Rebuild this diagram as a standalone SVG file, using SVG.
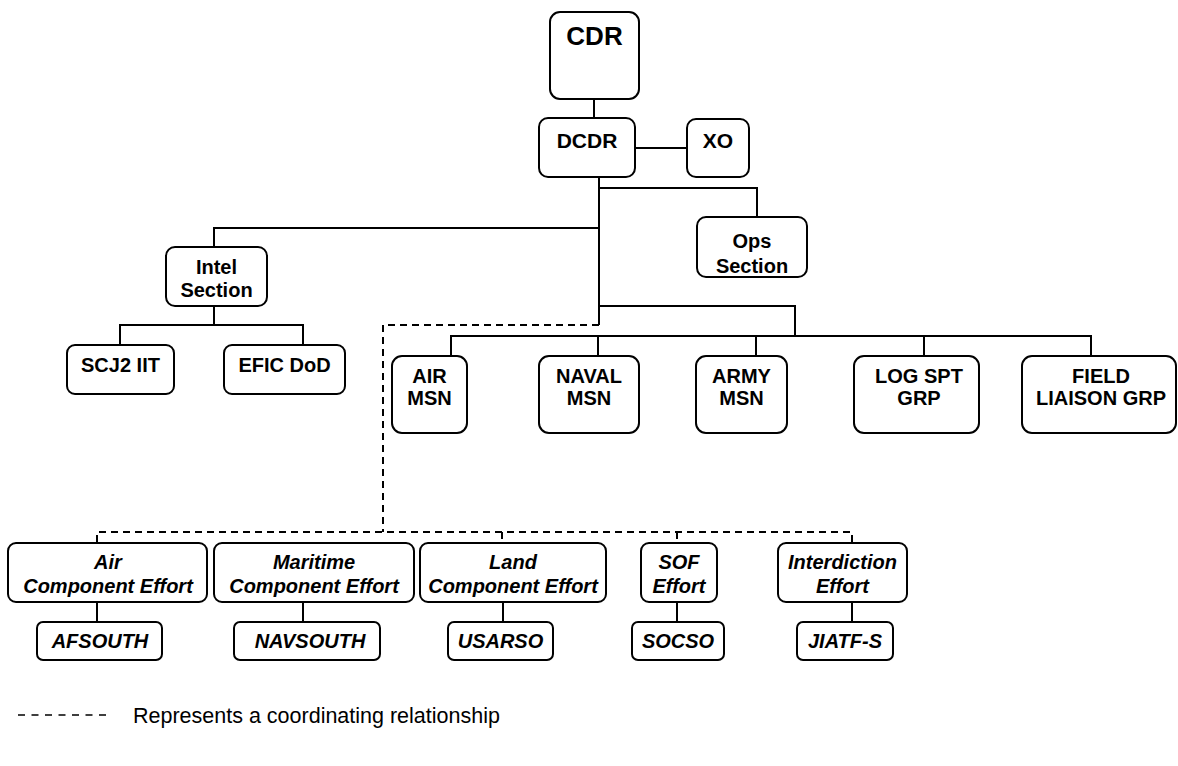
<svg xmlns="http://www.w3.org/2000/svg" width="1178" height="766" viewBox="0 0 1178 766">
<style>
.box{fill:#fff;stroke:#000;stroke-width:2}
.ln{fill:none;stroke:#000;stroke-width:2}
.ds{fill:none;stroke:#000;stroke-width:2;stroke-dasharray:7 5}
text{font-family:"Liberation Sans",Arial,sans-serif;fill:#000;text-anchor:middle}
.b{font-weight:bold;font-size:20px}
.bi{font-weight:bold;font-style:italic;font-size:20px}
</style>
<rect width="1178" height="766" fill="#fff"/>
<g id="connectors">
<path class="ln" d="M594,99V118"/>
<path class="ln" d="M635,148H687"/>
<path class="ln" d="M599,177V325"/>
<path class="ln" d="M599,188H757V217"/>
<path class="ln" d="M599,228H214V247"/>
<path class="ln" d="M214,306V325M120,345V325H303V345"/>
<path class="ln" d="M599,306H795V336"/>
<path class="ln" d="M451,356V336H1091V356M598,336V356M756,336V356M924,336V356"/>
<path class="ds" d="M599,325H383V532"/>
<path class="ds" d="M97,542V532H852V542M502,532V542M677,532V542"/>
<path class="ln" d="M97,602V622M303,602V622M503,602V622M677,602V622M852,602V622"/>
</g>
<g id="cdr"><rect class="box" x="550" y="12" width="89" height="87" rx="10"/><text x="594.5" y="45" font-size="26" font-weight="bold">CDR</text></g>
<g id="dcdr"><rect class="box" x="539" y="118" width="96" height="59" rx="9"/><text x="587" y="148" font-size="21" font-weight="bold">DCDR</text></g>
<g id="xo"><rect class="box" x="687" y="119" width="62" height="58" rx="9"/><text x="718" y="148" font-size="21" font-weight="bold">XO</text></g>
<g id="ops"><rect class="box" x="697" y="217" width="110" height="60" rx="9"/><text class="b" x="752" y="248">Ops</text><text class="b" x="752" y="273">Section</text></g>
<g id="intel"><rect class="box" x="166" y="247" width="101" height="59" rx="9"/><text class="b" x="216.5" y="274">Intel</text><text class="b" x="216.5" y="297">Section</text></g>
<g id="scj2"><rect class="box" x="67" y="345" width="107" height="49" rx="8"/><text class="b" x="120.5" y="372">SCJ2 IIT</text></g>
<g id="efic"><rect class="box" x="224" y="345" width="121" height="49" rx="8"/><text class="b" x="284.5" y="372">EFIC DoD</text></g>
<g id="air-msn"><rect class="box" x="392" y="356" width="75" height="77" rx="10"/><text class="b" x="429.5" y="383">AIR</text><text class="b" x="429.5" y="405">MSN</text></g>
<g id="naval-msn"><rect class="box" x="539" y="356" width="100" height="77" rx="10"/><text class="b" x="589" y="383">NAVAL</text><text class="b" x="589" y="405">MSN</text></g>
<g id="army-msn"><rect class="box" x="696" y="356" width="91" height="77" rx="10"/><text class="b" x="741.5" y="383">ARMY</text><text class="b" x="741.5" y="405">MSN</text></g>
<g id="log-spt"><rect class="box" x="854" y="356" width="125" height="77" rx="10"/><text class="b" x="919" y="383">LOG SPT</text><text class="b" x="919" y="405">GRP</text></g>
<g id="field"><rect class="box" x="1022" y="356" width="154" height="77" rx="10"/><text class="b" x="1101" y="383">FIELD</text><text class="b" x="1101" y="405">LIAISON GRP</text></g>
<g id="air-eff"><rect class="box" x="8" y="543" width="199" height="59" rx="8"/><text class="bi" x="108" y="569">Air</text><text class="bi" x="108" y="593">Component Effort</text></g>
<g id="mar-eff"><rect class="box" x="214" y="543" width="200" height="59" rx="8"/><text class="bi" x="314" y="569">Maritime</text><text class="bi" x="314" y="593">Component Effort</text></g>
<g id="land-eff"><rect class="box" x="420" y="543" width="186" height="59" rx="8"/><text class="bi" x="513" y="569">Land</text><text class="bi" x="513" y="593">Component Effort</text></g>
<g id="sof-eff"><rect class="box" x="641" y="543" width="76" height="59" rx="8"/><text class="bi" x="679" y="569">SOF</text><text class="bi" x="679" y="593">Effort</text></g>
<g id="int-eff"><rect class="box" x="778" y="543" width="129" height="59" rx="8"/><text class="bi" x="842.5" y="569">Interdiction</text><text class="bi" x="842.5" y="593">Effort</text></g>
<g id="afsouth"><rect class="box" x="37" y="622" width="125" height="38" rx="6"/><text class="bi" x="100" y="648">AFSOUTH</text></g>
<g id="navsouth"><rect class="box" x="234" y="622" width="146" height="38" rx="6"/><text class="bi" x="310" y="648">NAVSOUTH</text></g>
<g id="usarso"><rect class="box" x="448" y="622" width="105" height="38" rx="6"/><text class="bi" x="500.5" y="648">USARSO</text></g>
<g id="socso"><rect class="box" x="632" y="622" width="92" height="38" rx="6"/><text class="bi" x="678" y="648">SOCSO</text></g>
<g id="jiatf"><rect class="box" x="797" y="622" width="96" height="38" rx="6"/><text class="bi" x="845" y="648">JIATF-S</text></g>
<g id="legend">
<path d="M18,715H106" fill="none" stroke="#000" stroke-width="1.5" stroke-dasharray="7 6.5"/>
<text x="133" y="723" font-size="21.5" style="text-anchor:start">Represents a coordinating relationship</text>
</g>
</svg>
